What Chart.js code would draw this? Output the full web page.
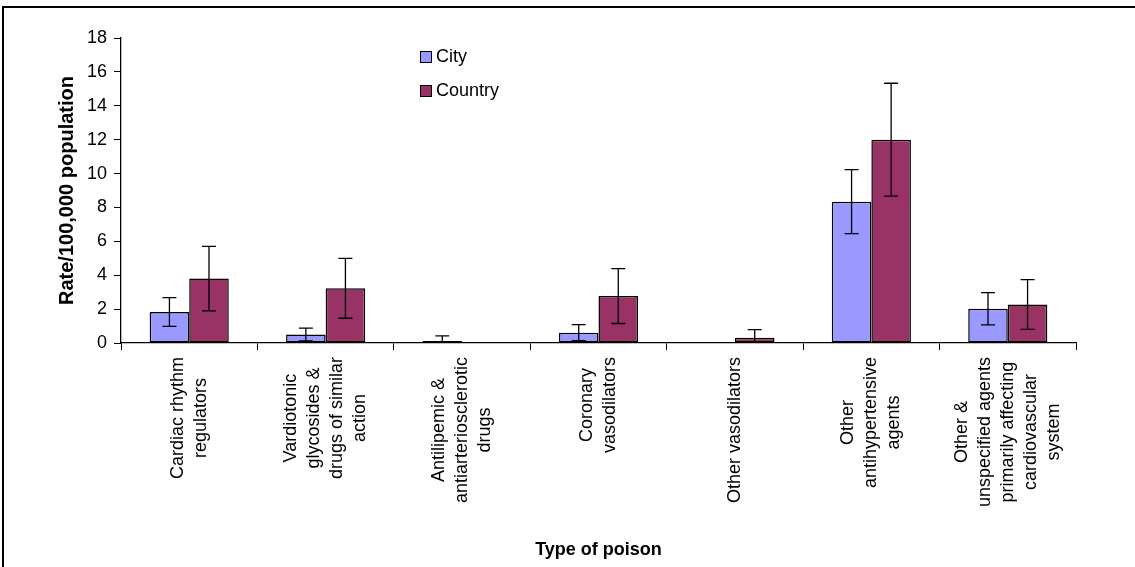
<!DOCTYPE html>
<html>
<head>
<meta charset="utf-8">
<script src="https://cdn.jsdelivr.net/npm/chart.js@4/dist/chart.umd.min.js"></script>
<style>
    body { margin: 0; background: #fff; }
    #wrap { position: relative; width: 1135px; height: 567px; }
    #frame { position: absolute; left: 2px; top: 6px; right: 0; bottom: -4px; border-top: 2px solid #000; border-left: 2px solid #000; pointer-events: none; }
</style>
</head>
<body>
<div id="wrap">
    <canvas id="chart"></canvas>
    <div id="frame"></div>
</div>
<script>
const categories = [
    ['Cardiac rhythm', 'regulators'],
    ['Vardiotonic', 'glycosides &', 'drugs of similar', 'action'],
    ['Antilipemic &', 'antiarteriosclerotic', 'drugs'],
    ['Coronary', 'vasodilators'],
    ['Other vasodilators'],
    ['Other', 'antihypertensive', 'agents'],
    ['Other &', 'unspecified agents', 'primarily affecting', 'cardiovascular', 'system']
];
const cityValues = [1.83, 0.5, 0.12, 0.61, 0.05, 8.34, 2.02];
const cityErrors = [0.85, 0.38, 0.3, 0.47, 0, 1.89, 0.95];
const countryValues = [3.8, 3.23, 0.05, 2.77, 0.31, 12.0, 2.27];
const countryErrors = [1.9, 1.77, 0, 1.62, 0.48, 3.33, 1.47];
const yTicks = [0, 2, 4, 6, 8, 10, 12, 14, 16, 18];

const font = 'Liberation Sans, Arial, sans-serif';

// error bars drawn from the bar elements and the y scale
const errorBars = {
    id: 'errorBars',
    afterDatasetsDraw(chart) {
        const ctx = chart.ctx;
        const y = chart.scales.y;
        const errs = [cityErrors, countryErrors];
        ctx.save();
        ctx.strokeStyle = '#000';
        ctx.lineWidth = 1.3;
        chart.data.datasets.forEach((ds, di) => {
            chart.getDatasetMeta(di).data.forEach((bar, i) => {
                const e = errs[di][i];
                if (!e) return;
                const v = ds.data[i];
                const top = y.getPixelForValue(v + e);
                const bot = y.getPixelForValue(Math.max(0, v - e));
                ctx.beginPath();
                ctx.moveTo(bar.x, top);
                ctx.lineTo(bar.x, bot);
                ctx.moveTo(bar.x - 7, top);
                ctx.lineTo(bar.x + 7, top);
                if (v - e > 0) {
                    ctx.moveTo(bar.x - 7, bot);
                    ctx.lineTo(bar.x + 7, bot);
                }
                ctx.stroke();
            });
        });
        ctx.restore();
    }
};

// rotated, centred multi-line category labels
const catLabels = {
    id: 'catLabels',
    afterDraw(chart) {
        const ctx = chart.ctx;
        const x = chart.scales.x;
        const lh = 23;
        ctx.save();
        ctx.font = '18px ' + font;
        ctx.fillStyle = '#000';
        ctx.textBaseline = 'middle';
        ctx.textAlign = 'center';
        categories.forEach((lines, i) => {
            const cx = x.getPixelForValue(i);
            const maxW = Math.max(...lines.map(l => ctx.measureText(l).width));
            ctx.save();
            ctx.translate(cx, x.top + 14);
            ctx.rotate(-Math.PI / 2);
            lines.forEach((l, j) => {
                ctx.fillText(l, -maxW / 2, (j - (lines.length - 1) / 2) * lh);
            });
            ctx.restore();
        });
        ctx.restore();
    }
};

// legend inside the plot area
const boxLegend = {
    id: 'boxLegend',
    afterDraw(chart) {
        const ctx = chart.ctx;
        ctx.save();
        ctx.font = '18px ' + font;
        ctx.textBaseline = 'middle';
        ctx.textAlign = 'left';
        chart.data.datasets.forEach((ds, i) => {
            const yy = 57 + i * 34;
            ctx.fillStyle = ds.backgroundColor;
            ctx.fillRect(420, yy - 6, 12, 12);
            ctx.strokeStyle = '#000';
            ctx.lineWidth = 1;
            ctx.strokeRect(420.5, yy - 5.5, 11, 11);
            ctx.fillStyle = '#000';
            ctx.fillText(ds.label, 436, yy);
        });
        ctx.restore();
    }
};

new Chart(document.getElementById('chart'), {
    type: 'bar',
    data: {
        labels: categories.map(c => c.join(' ')),
        datasets: [
            {
                label: 'City',
                data: cityValues,
                backgroundColor: '#9999FF',
                borderColor: '#000',
                borderWidth: 1.5,
                borderSkipped: false
            },
            {
                label: 'Country',
                data: countryValues,
                backgroundColor: '#993366',
                borderColor: '#000',
                borderWidth: 1.5,
                borderSkipped: false
            }
        ]
    },
    options: {
        responsive: true,
        maintainAspectRatio: false,
        animation: false,
        layout: { padding: { top: 38, right: 59, left: 0, bottom: 0 } },
        datasets: { bar: { categoryPercentage: 0.58, barPercentage: 1 } },
        plugins: {
            legend: { display: false },
            tooltip: { enabled: false }
        },
        scales: {
            x: {
                grid: { drawOnChartArea: false, tickLength: 7, color: '#000', offset: true },
                border: { color: '#000', width: 1.3 },
                ticks: { display: false },
                title: {
                    display: true,
                    text: 'Type of poison',
                    color: '#000',
                    font: { family: font, size: 18, weight: 'bold' },
                    padding: { top: 0, bottom: 6 }
                },
                afterFit: s => { s.height = 224; }
            },
            y: {
                min: 0,
                max: 18,
                afterBuildTicks: s => { s.ticks = yTicks.map(v => ({ value: v })); },
                grid: { drawOnChartArea: false, tickLength: 7, color: '#000' },
                border: { color: '#000', width: 1.3 },
                ticks: { color: '#000', font: { family: font, size: 18 }, padding: 7 },
                title: {
                    display: true,
                    text: 'Rate/100,000 population',
                    color: '#000',
                    font: { family: font, size: 20, weight: 'bold' },
                    padding: { top: 55, bottom: 0 }
                },
                afterFit: s => { s.width = 121; }
            }
        }
    },
    plugins: [errorBars, catLabels, boxLegend]
});
</script>
</body>
</html>
